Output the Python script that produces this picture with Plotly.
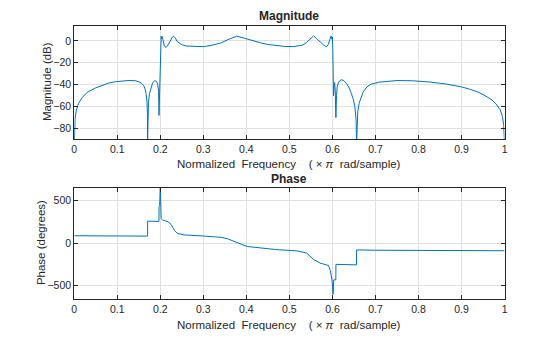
import plotly.graph_objects as go

# ---- data (normalized frequency, x pi rad/sample) ----
mag_freq = [0, 0.001, 0.002, 0.005, 0.01, 0.018, 0.03, 0.049, 0.065, 0.08, 0.095, 0.11, 0.125,
            0.141, 0.15, 0.156, 0.161, 0.164, 0.167, 0.169, 0.170, 0.1705, 0.171, 0.1725, 0.175,
            0.178, 0.182, 0.187, 0.191, 0.194, 0.196, 0.197, 0.198, 0.199, 0.2, 0.201, 0.202,
            0.203, 0.204, 0.206, 0.209, 0.212, 0.216, 0.222, 0.228, 0.231, 0.235, 0.24, 0.25,
            0.26, 0.28, 0.3, 0.32, 0.34, 0.36, 0.377, 0.39, 0.41, 0.433, 0.45, 0.47, 0.49, 0.51,
            0.53, 0.54, 0.55, 0.556, 0.562, 0.571, 0.58, 0.586, 0.59, 0.593, 0.595, 0.597, 0.599,
            0.6, 0.601, 0.6025, 0.604, 0.605, 0.6065, 0.608, 0.6095, 0.611, 0.614, 0.618, 0.622,
            0.627, 0.633, 0.639, 0.644, 0.649, 0.652, 0.654, 0.655, 0.656, 0.657, 0.659, 0.662,
            0.667, 0.671, 0.68, 0.69, 0.71, 0.73, 0.75, 0.786, 0.825, 0.863, 0.9, 0.92, 0.94,
            0.955, 0.971, 0.98, 0.99, 0.995, 0.998, 1.0]
mag_db = [-95, -77, -71, -63, -57, -52, -47, -43, -40.5, -38.5, -37.3, -36.6, -36.2,
          -36.3, -37.2, -38.6, -40.5, -43, -48, -55, -65, -92, -68, -56, -48,
          -43, -38.5, -36.2, -37.0, -39.5, -46, -68, -50, -25, -5, 3, 4.2,
          2, 4, 1, -4, -6, -5, -1, 3.5, 4.2, 2.5, -1, -3.5,
          -4.7, -5.3, -5.3, -4, -2, 1.5, 4.2, 3, 0.5, -1.8, -3.3, -4.5, -5.1, -5.2,
          -4, -1.5, 2, 4.5, 2.5, -1, -4, -5.5, -3.5, 0, 3.5, 4.5, 1.5,
          3.5, -10, -50, -42, -38, -45, -70, -50, -42, -38, -36, -35.5,
          -36.5, -39, -43, -48, -54, -60, -66, -72, -95, -72, -64, -57,
          -51, -47, -42, -39.5, -37.6, -36.6, -36.2, -36.4, -37.5, -39.3, -42, -44.2, -47,
          -50, -54, -57.5, -63, -69, -77, -95]

ph_freq = [0, 0.1, 0.1704, 0.1706, 0.1969, 0.1971, 0.1985, 0.2, 0.2005, 0.202, 0.205, 0.218,
           0.225, 0.233, 0.24, 0.256, 0.3, 0.34, 0.355, 0.372, 0.39, 0.402, 0.433, 0.47,
           0.502, 0.518, 0.54, 0.556, 0.571, 0.591, 0.595, 0.599, 0.6015, 0.603, 0.6079,
           0.6081, 0.6559, 0.6561, 0.7, 0.85, 1.0]
ph_deg = [88, 86, 84, 260, 256, 430, 440, 680, 430, 290, 275, 252,
          222, 150, 115, 98, 85, 70, 55, 25, -15, -38, -58, -75,
          -85, -90, -115, -190, -232, -262, -320, -430, -600, -430, -430,
          -248, -254, -78, -82, -85, -88]

x_ticks = [0, 0.1, 0.2, 0.3, 0.4, 0.5, 0.6, 0.7, 0.8, 0.9, 1]
x_labels = ["0", "0.1", "0.2", "0.3", "0.4", "0.5", "0.6", "0.7", "0.8", "0.9", "1"]
mag_ticks = [-80, -60, -40, -20, 0]
ph_ticks = [-500, 0, 500]

W, H = 560, 337
LINE = "#0072BD"
AX = "#262626"
GRID = "#E0E0E0"
FONT = "Liberation Sans, Arial, Helvetica, sans-serif"

fig = go.Figure()
fig.add_trace(go.Scatter(x=mag_freq, y=mag_db, mode="lines",
                         line=dict(color=LINE, width=1), xaxis="x", yaxis="y", showlegend=False))
fig.add_trace(go.Scatter(x=ph_freq, y=ph_deg, mode="lines",
                         line=dict(color=LINE, width=1), xaxis="x2", yaxis="y2", showlegend=False))

xd = [72 / W, 507 / W]
top_dom = [1 - 139 / H, 1 - 25.5 / H]
bot_dom = [1 - 299 / H, 1 - 187.5 / H]

common_x = dict(range=[0, 1], tickvals=x_ticks, ticktext=x_labels, ticks="inside", ticklen=4,
                tickcolor=AX, showline=True, linecolor=AX, linewidth=1, mirror="ticks",
                showgrid=True, gridcolor=GRID, gridwidth=1, zeroline=False,
                tickfont=dict(family=FONT, size=10.5, color=AX), domain=xd, fixedrange=True)
common_y = dict(ticks="inside", ticklen=4, tickcolor=AX, showline=True, linecolor=AX, linewidth=1,
                mirror="ticks", showgrid=True, gridcolor=GRID, gridwidth=1, zeroline=False,
                tickfont=dict(family=FONT, size=10.5, color=AX), fixedrange=True)

fig.update_layout(
    width=W, height=H, margin=dict(l=0, r=0, t=0, b=0),
    paper_bgcolor="white", plot_bgcolor="white",
    xaxis=dict(anchor="y", **common_x),
    yaxis=dict(anchor="x", domain=top_dom, range=[-89.5, 14], tickvals=mag_ticks, **common_y),
    xaxis2=dict(anchor="y2", **common_x),
    yaxis2=dict(anchor="x2", domain=bot_dom, range=[-655, 655], tickvals=ph_ticks, **common_y),
)

xlabel = "Normalized\u00a0\u00a0Frequency\u00a0\u00a0\u00a0\u00a0(\u00a0\u00d7\u00a0<i>\u03c0</i>\u00a0\u00a0rad/sample)"
cx = (72 + 507) / 2 / W
ann = [
    dict(text="<b>Magnitude</b>", x=cx, y=1 - 16.5 / H, size=12),
    dict(text="<b>Phase</b>", x=cx, y=1 - 179 / H, size=12),
    dict(text=xlabel, x=cx, y=1 - 164 / H, size=11.5),
    dict(text=xlabel, x=cx, y=1 - 325 / H, size=11.5),
]
for a in ann:
    fig.add_annotation(text=a["text"], x=a["x"], y=a["y"], xref="paper", yref="paper",
                       showarrow=False, xanchor="center", yanchor="middle",
                       font=dict(family=FONT, size=a["size"], color=AX))
fig.add_annotation(text="Magnitude (dB)", x=44.5 / W, y=1 - 82 / H, xref="paper", yref="paper",
                   showarrow=False, textangle=-90, xanchor="center", yanchor="middle",
                   font=dict(family=FONT, size=11.5, color=AX))
fig.add_annotation(text="Phase (degrees)", x=38.5 / W, y=1 - 243 / H, xref="paper", yref="paper",
                   showarrow=False, textangle=-90, xanchor="center", yanchor="middle",
                   font=dict(family=FONT, size=11.5, color=AX))

fig.write_html("out.html")
